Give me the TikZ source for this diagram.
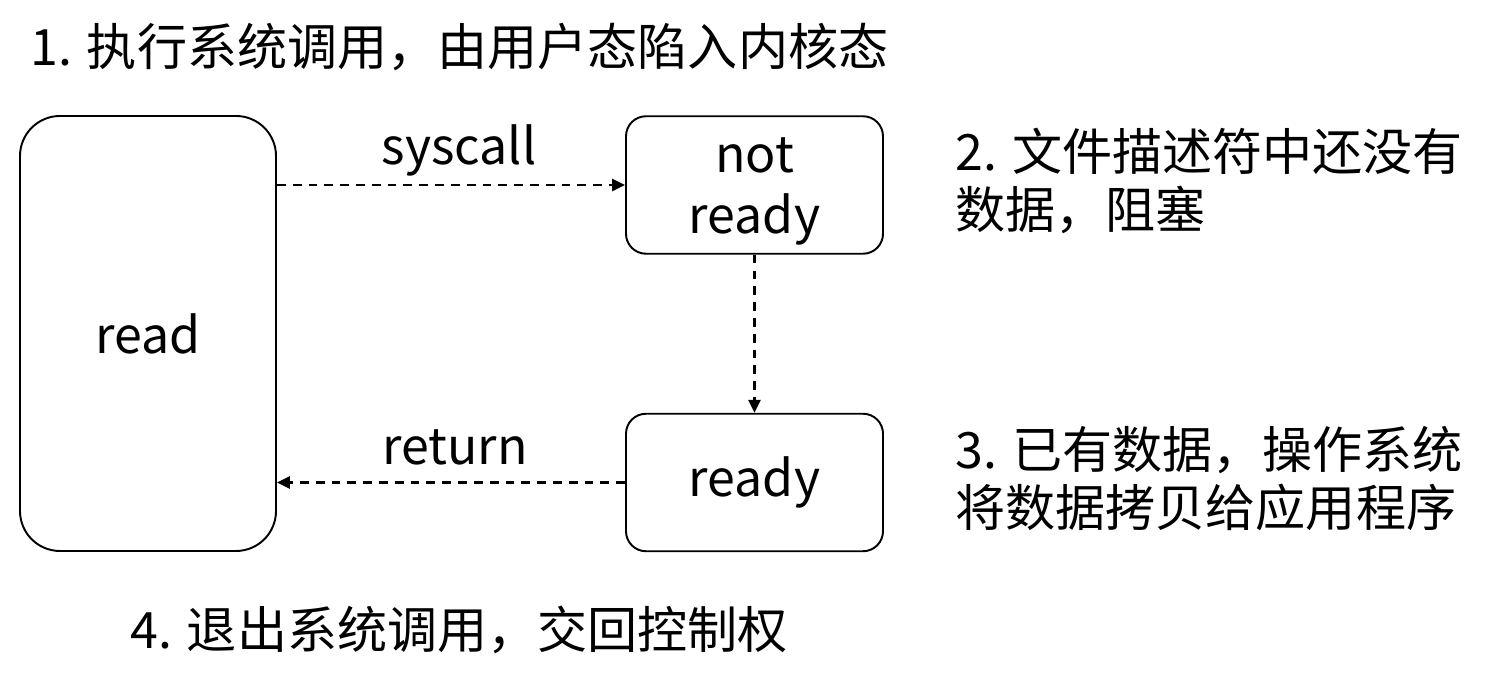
\documentclass[tikz,border=0pt]{standalone}
\usepackage{fontspec}
\setmainfont{Noto Sans CJK SC}
\usetikzlibrary{positioning,arrows.meta}

\begin{document}
\begin{tikzpicture}[
    stagebox/.style={draw,line width=1.1pt,rounded corners=0.4cm,align=center,
      minimum width=5.14cm,minimum height=2.75cm,inner sep=0pt},
    callarrow/.style={line width=1.5pt,dash pattern=on 5pt off 4pt,
      -{Triangle[length=2.6mm,width=2.4mm]}},
    note/.style={align=left,anchor=west,inner sep=0pt},
    font=\fontsize{28.5pt}{33pt}\selectfont]
  \useasboundingbox (0,0) rectangle (29.78,13.78);
  \node[stagebox,rounded corners=0.8cm,minimum width=5.12cm,minimum height=8.7cm]
    (read) at (2.96,7.11) {read};
  \node[stagebox,font=\fontsize{28.5pt}{34.5pt}\selectfont]
    (notready) at (15.09,10.08) {not\rule{0pt}{0.95cm}\\ready};
  \node[stagebox] (ready) at (15.09,4.13) {ready};
  \draw[callarrow] (read.east |- notready.west) -- (notready.west);
  \node (syscall) at (9.18,10.78) {syscall};
  \draw[callarrow] (notready) -- (ready);
  \draw[callarrow] (ready.west) -- (read.east |- ready.west);
  \node (ret) at (9.1,4.84) {return};
  \node[note] (step1) at (0.6,12.84) {1. 执行系统调用，由用户态陷入内核态};
  \node[note] (step2) at (19.1,10.16) {2. 文件描述符中还没有\\数据，阻塞};
  \node[note] (step3) at (19.1,4.2) {3. 已有数据，操作系统\\将数据拷贝给应用程序};
  \node[note] (step4) at (2.6,1.18) {4. 退出系统调用，交回控制权};
\end{tikzpicture}
\end{document}
